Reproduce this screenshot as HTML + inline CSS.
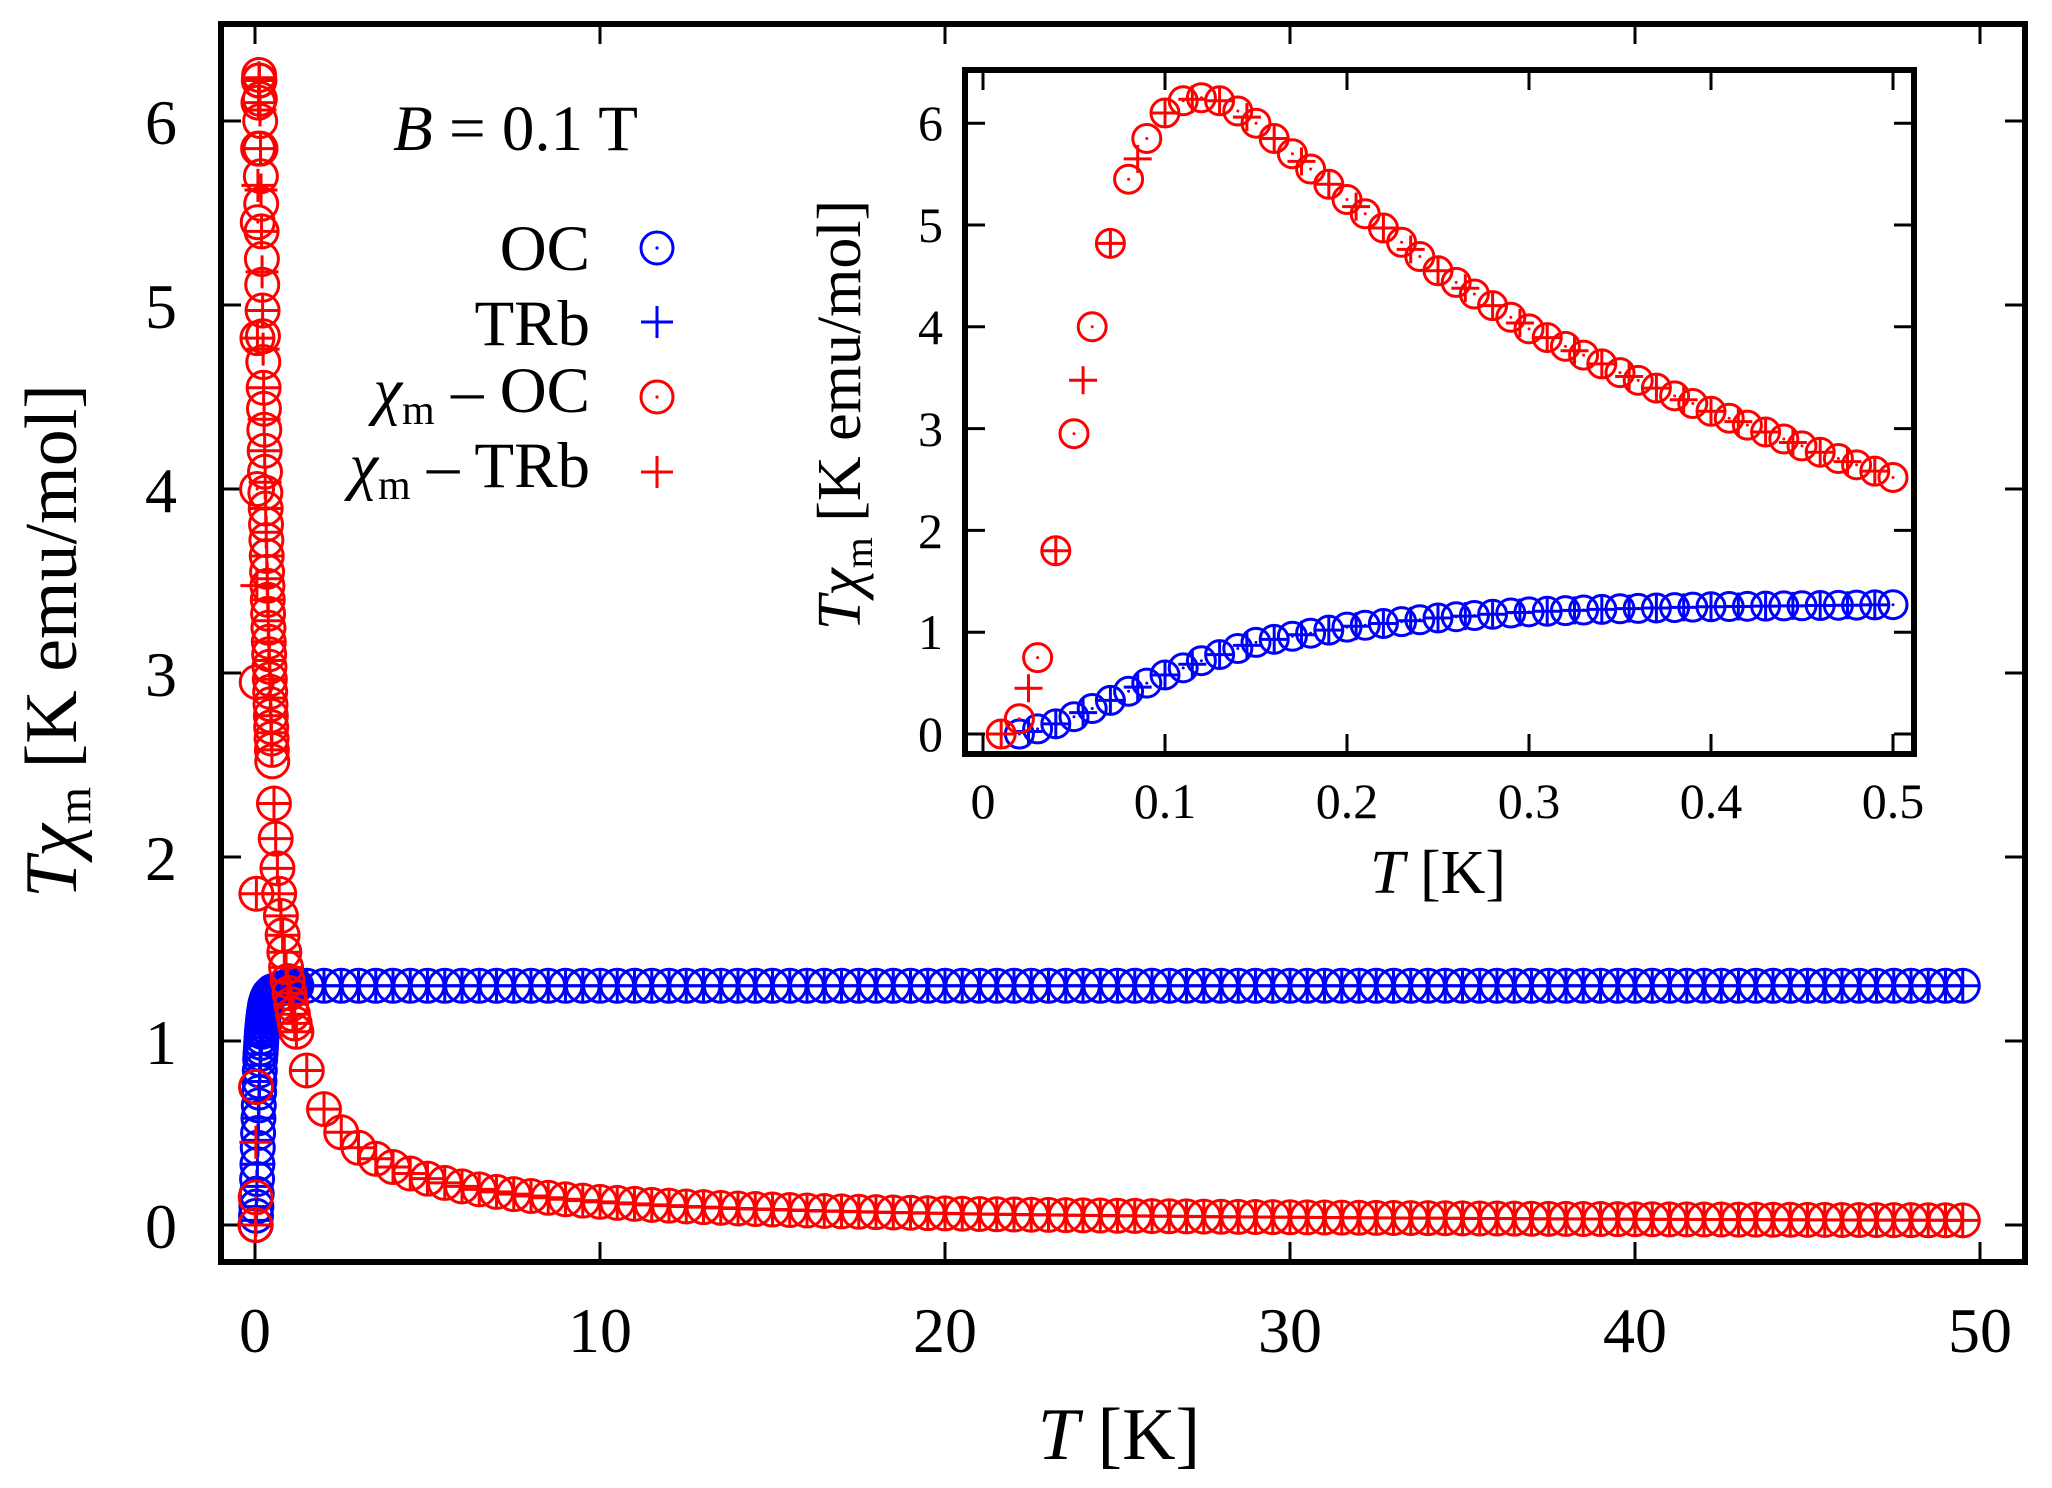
<!DOCTYPE html>
<html><head><meta charset="utf-8">
<style>
html,body{margin:0;padding:0;background:#fff;}
svg{display:block;}
text{font-family:"Liberation Serif",serif;fill:#000;}
</style></head>
<body>
<svg id="s" width="2052" height="1488" viewBox="0 0 2052 1488" xmlns="http://www.w3.org/2000/svg">
<rect x="0" y="0" width="2052" height="1488" fill="#fff"/>
<g id="main"></g>
<rect x="221" y="24" width="1804" height="1238" fill="none" stroke="#000" stroke-width="6"/>
<rect x="965" y="70" width="949" height="684" fill="#fff" stroke="#000" stroke-width="6"/>
<g id="ins2"></g>
<rect x="965" y="70" width="949" height="684" fill="none" stroke="#000" stroke-width="6"/>
<g font-size="64" text-anchor="end">
<text x="177" y="1248">0</text><text x="177" y="1064">1</text><text x="177" y="880">2</text>
<text x="177" y="696">3</text><text x="177" y="512">4</text><text x="177" y="328">5</text><text x="177" y="144">6</text>
</g>
<g font-size="64" text-anchor="middle">
<text x="255" y="1352">0</text><text x="600" y="1352">10</text><text x="945" y="1352">20</text>
<text x="1290" y="1352">30</text><text x="1635" y="1352">40</text><text x="1980" y="1352">50</text>
</g>
<text x="1119" y="1459" font-size="74" text-anchor="middle"><tspan font-style="italic">T</tspan> [K]</text>
<text transform="translate(76,641) rotate(-90)" font-size="74" text-anchor="middle"><tspan font-style="italic">Tχ</tspan><tspan font-size="48" dy="14">m</tspan><tspan dy="-14"> [K emu/mol]</tspan></text>
<g font-size="50" text-anchor="end">
<text x="943" y="751">0</text><text x="943" y="649">1</text><text x="943" y="548">2</text>
<text x="943" y="446">3</text><text x="943" y="344">4</text><text x="943" y="242">5</text><text x="943" y="140">6</text>
</g>
<g font-size="50" text-anchor="middle">
<text x="983" y="818">0</text><text x="1165" y="818">0.1</text><text x="1347" y="818">0.2</text>
<text x="1529" y="818">0.3</text><text x="1711" y="818">0.4</text><text x="1893" y="818">0.5</text>
</g>
<text x="1438" y="893" font-size="62" text-anchor="middle"><tspan font-style="italic">T</tspan> [K]</text>
<text transform="translate(860,415) rotate(-90)" font-size="62" text-anchor="middle"><tspan font-style="italic">Tχ</tspan><tspan font-size="40" dy="12">m</tspan><tspan dy="-12"> [K emu/mol]</tspan></text>
<text x="393" y="150" font-size="65"><tspan font-style="italic">B</tspan> = 0.1 T</text>
<g font-size="65" text-anchor="end">
<text x="590" y="270">OC</text>
<text x="590" y="345">TRb</text>
<text x="590" y="412"><tspan font-style="italic">χ</tspan><tspan font-size="42" dy="12">m</tspan><tspan dy="-12"> – OC</tspan></text>
<text x="590" y="487"><tspan font-style="italic">χ</tspan><tspan font-size="42" dy="12">m</tspan><tspan dy="-12"> – TRb</tspan></text>
</g>
<circle cx="657" cy="248" r="16" fill="none" stroke="#00f" stroke-width="3"/><circle cx="657" cy="248" r="1.6" fill="#00f"/>
<path d="M641 322H673M657 306V338" stroke="#00f" stroke-width="3"/>
<circle cx="657" cy="397" r="16" fill="none" stroke="#f00" stroke-width="3"/><circle cx="657" cy="397" r="1.6" fill="#f00"/>
<path d="M641 472H673M657 456V488" stroke="#f00" stroke-width="3"/>
</svg>
<script>
(function(){
var NS="http://www.w3.org/2000/svg";
function interp(tab,t){
 if(t<=tab[0][0])return tab[0][1];
 for(var i=1;i<tab.length;i++){if(t<=tab[i][0]){var a=tab[i-1],b=tab[i];return a[1]+(b[1]-a[1])*(t-a[0])/(b[0]-a[0]);}}
 return tab[tab.length-1][1];}
var R=[[0.01,0],[0.02,0.15],[0.03,0.75],[0.04,1.8],[0.05,2.95],[0.06,4.0],[0.07,4.82],[0.08,5.45],[0.09,5.85],[0.1,6.1],[0.11,6.22],[0.12,6.25],[0.13,6.22],[0.14,6.12],[0.15,6.0],[0.16,5.85],[0.18,5.55],[0.2,5.25],[0.25,4.55],[0.3,3.98],[0.35,3.55],[0.4,3.17],[0.45,2.83],[0.5,2.52]];
var B=[[0.02,0],[0.03,0.05],[0.04,0.1],[0.05,0.17],[0.06,0.25],[0.07,0.33],[0.08,0.42],[0.09,0.5],[0.1,0.58],[0.12,0.72],[0.15,0.9],[0.2,1.05],[0.25,1.14],[0.3,1.2],[0.35,1.23],[0.4,1.25],[0.5,1.27]];
function red(t){return t<=0.5?interp(R,t):1.26/t;}
function blue(t){return t<=0.5?interp(B,t):Math.min(1.3,1.27+0.03*(t-0.5)/0.5);}
function circ(g,x,y,r,c,sw){var e=document.createElementNS(NS,"circle");e.setAttribute("cx",x);e.setAttribute("cy",y);e.setAttribute("r",r);e.setAttribute("fill","none");e.setAttribute("stroke",c);e.setAttribute("stroke-width",sw);g.appendChild(e);
 var d=document.createElementNS(NS,"circle");d.setAttribute("cx",x);d.setAttribute("cy",y);d.setAttribute("r",1.5);d.setAttribute("fill",c);g.appendChild(d);}
function plus(g,x,y,h,c,sw){var e=document.createElementNS(NS,"path");e.setAttribute("d","M"+(x-h)+" "+y+"H"+(x+h)+"M"+x+" "+(y-h)+"V"+(y+h));e.setAttribute("stroke",c);e.setAttribute("stroke-width",sw);e.setAttribute("fill","none");g.appendChild(e);}
function line(g,x1,y1,x2,y2){var e=document.createElementNS(NS,"line");e.setAttribute("x1",x1);e.setAttribute("y1",y1);e.setAttribute("x2",x2);e.setAttribute("y2",y2);e.setAttribute("stroke","#000");e.setAttribute("stroke-width",3);g.appendChild(e);}
var g=document.getElementById("main");
function mx(t){return 255+34.5*t;} function my(v){return 1225-184*v;}
for(var i=0;i<=6;i++){line(g,221,my(i),241,my(i));line(g,2025,my(i),2005,my(i));}
for(var i=0;i<=5;i++){line(g,mx(i*10),1262,mx(i*10),1242);line(g,mx(i*10),24,mx(i*10),44);}
var T=[],Tp=[];
for(var t=0.01;t<=0.5001;t+=0.01)T.push(+t.toFixed(3));
for(var t=0.55;t<=1.2001;t+=0.05)T.push(+t.toFixed(3));
for(var t=1.5;t<=49.501;t+=0.5)T.push(t);
for(var t=0.01;t<=0.5001;t+=0.015)Tp.push(t);
for(var t=0.55;t<=1.2001;t+=0.05)Tp.push(t);
for(var t=1.5;t<=49.501;t+=0.5)Tp.push(t);
T.forEach(function(t){if(t>=0.02)circ(g,mx(t),my(blue(t)),16.5,"#00f",3);});
Tp.forEach(function(t){if(t>=0.02)plus(g,mx(t),my(blue(t)),16.5,"#00f",3);});
T.forEach(function(t){circ(g,mx(t),my(red(t)),16.5,"#f00",3);});
Tp.forEach(function(t){plus(g,mx(t),my(red(t)),16.5,"#f00",3);});
var h=document.getElementById("ins2");
function ix(t){return 983+1820*t;} function iy(v){return 734-101.8*v;}
for(var i=0;i<=6;i++){line(h,965,iy(i),985,iy(i));line(h,1914,iy(i),1894,iy(i));}
for(var i=0;i<=5;i++){line(h,ix(i/10),754,ix(i/10),734);line(h,ix(i/10),70,ix(i/10),90);}
var IT=[],IP=[];
for(var t=0.01;t<=0.5001;t+=0.01)IT.push(t);
for(var t=0.01;t<=0.5001;t+=0.015)IP.push(t);
IT.forEach(function(t){if(t>=0.02)circ(h,ix(t),iy(blue(t)),14,"#00f",3);});
IP.forEach(function(t){if(t>=0.02)plus(h,ix(t),iy(blue(t)),14,"#00f",3);});
IT.forEach(function(t){circ(h,ix(t),iy(red(t)),14,"#f00",3);});
IP.forEach(function(t){plus(h,ix(t),iy(red(t)),14,"#f00",3);});
})();
</script>
</body></html>
